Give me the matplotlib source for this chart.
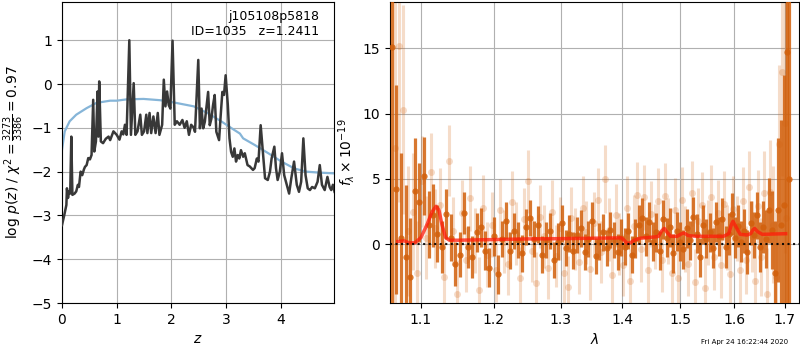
import numpy as np
import matplotlib
matplotlib.use('Agg')
import matplotlib.pyplot as plt
from matplotlib.ticker import FixedLocator, NullLocator, FormatStrFormatter

# --- left panel: redshift probability ---
z_grid = [0.00, 0.04, 0.08, 0.09, 0.11, 0.13, 0.15, 0.17, 0.19, 0.23,
          0.26, 0.29, 0.31, 0.34, 0.37, 0.40, 0.42, 0.45, 0.48, 0.51,
          0.54, 0.57, 0.59, 0.62, 0.65, 0.665, 0.68, 0.71, 0.75, 0.80,
          0.85, 0.88, 0.94, 1.00, 1.05, 1.09, 1.12, 1.15, 1.18, 1.23,
          1.26, 1.31, 1.34, 1.38, 1.43, 1.46, 1.50, 1.54, 1.56, 1.60,
          1.63, 1.67, 1.71, 1.75, 1.78, 1.83, 1.86, 1.89, 1.92, 1.95,
          1.98, 2.02, 2.06, 2.10, 2.15, 2.20, 2.24, 2.28, 2.32, 2.36,
          2.41, 2.43, 2.49, 2.52, 2.55, 2.58, 2.61, 2.67, 2.70, 2.73,
          2.76, 2.79, 2.82, 2.87, 2.90, 2.93, 2.96, 2.99, 3.03, 3.06,
          3.09, 3.12, 3.15, 3.18, 3.21, 3.24, 3.27, 3.31, 3.34, 3.39,
          3.43, 3.49, 3.52, 3.56, 3.59, 3.63, 3.68, 3.71, 3.76, 3.80,
          3.83, 3.88, 3.91, 3.94, 3.98, 4.02, 4.06, 4.10, 4.15, 4.19,
          4.24, 4.29, 4.33, 4.37, 4.41, 4.45, 4.49, 4.53, 4.57, 4.62,
          4.67, 4.71, 4.75, 4.80, 4.85, 4.89, 4.92, 4.95, 4.98]
logpz = [-3.22, -3.00, -2.76, -2.38, -2.60, -2.45, -2.50, -1.20, -2.53, -2.50,
         -2.45, -2.30, -2.35, -2.00, -2.08, -1.95, -1.89, -1.85, -1.69, -1.72,
         -1.62, -0.36, -1.54, -1.31, -0.17, -1.20, 0.06, -1.31, -1.35, -1.25,
         -1.20, -1.28, -1.08, -1.16, -1.27, -1.08, -1.15, -0.93, -1.16, 1.00,
         -1.16, 0.02, -1.16, -1.08, -0.70, -1.16, -1.08, -0.70, -1.12, -0.66,
         -1.12, -0.74, -1.12, -0.66, -1.16, -0.93, 0.10, -0.51, -0.17, -0.48,
         -0.56, 0.99, -0.93, -0.85, -0.93, -0.82, -1.00, -0.85, -1.16, -0.93,
         -1.00, -1.09, 0.55, -1.01, -0.56, -1.01, -0.86, -0.18, -0.94, -0.79,
         -0.48, -0.25, -1.09, -1.28, -0.71, -0.18, -0.25, 0.20, -0.48, -1.24,
         -1.55, -1.66, -1.47, -1.77, -1.62, -1.70, -1.51, -1.66, -1.58, -1.85,
         -1.88, -1.96, -1.92, -1.70, -1.77, -0.94, -1.70, -2.15, -2.19, -2.00,
         -1.70, -1.43, -1.92, -2.19, -2.00, -1.58, -2.08, -2.27, -2.50, -2.15,
         -1.77, -2.30, -2.46, -2.23, -1.24, -2.08, -2.38, -2.42, -2.35, -2.38,
         -2.23, -1.85, -2.30, -2.42, -2.12, -2.35, -2.42, -2.30, -2.46]

z_prior = [0.00, 0.05, 0.14, 0.26, 0.45, 0.63, 0.88, 1.00, 1.18, 1.49,
           1.80, 2.04, 2.41, 2.67, 2.92, 3.10, 3.25, 3.31, 3.52, 3.77,
           4.01, 4.25, 4.47, 4.68, 4.98]
logp_prior = [-1.50, -1.08, -0.85, -0.70, -0.55, -0.43, -0.38, -0.38, -0.35, -0.34,
              -0.37, -0.42, -0.51, -0.67, -0.86, -1.01, -1.13, -1.24, -1.39, -1.58,
              -1.77, -1.93, -2.00, -2.02, -2.04]

# --- right panel: spectrum ---
dark_wave = [1.063, 1.068, 1.074, 1.080, 1.086, 1.092, 1.098, 1.104, 1.110, 1.116,
             1.122, 1.128, 1.134, 1.140, 1.146, 1.152, 1.158, 1.164, 1.170, 1.176,
             1.182, 1.188, 1.194, 1.200, 1.206, 1.212, 1.218, 1.224, 1.230, 1.236,
             1.242, 1.248, 1.254, 1.260, 1.266, 1.272, 1.278, 1.284, 1.290, 1.296,
             1.302, 1.308, 1.314, 1.320, 1.326, 1.332, 1.338, 1.344, 1.350, 1.356,
             1.362, 1.368, 1.374, 1.380, 1.386, 1.392, 1.398, 1.404, 1.410, 1.416,
             1.422, 1.428, 1.434, 1.440, 1.446, 1.452, 1.458, 1.464, 1.470, 1.476,
             1.482, 1.488, 1.494, 1.500, 1.506, 1.512, 1.518, 1.524, 1.530, 1.536,
             1.542, 1.548, 1.554, 1.560, 1.566, 1.572, 1.578, 1.584, 1.590, 1.596,
             1.602, 1.608, 1.614, 1.620, 1.626, 1.632, 1.638, 1.644, 1.650, 1.656,
             1.662, 1.668, 1.674, 1.680, 1.686, 1.692, 1.698, 1.704, 1.709]
dark_flux = [15.1, 4.2, 0.5, -1.0, -2.5, 4.1, 3.2, 5.2, 1.5, 2.2,
             0.8, -0.2, 2.3, 0.5, -1.5, -0.8, 2.4, -0.2, -1.0, 0.9,
             1.3, -0.5, -1.8, 0.6, -2.3, 0.4, 1.8, -0.5, 1.0, 0.3,
             -0.7, 1.3, 2.0, 0.4, 1.5, -0.8, 0.3, 1.0, -1.2, 0.2,
             1.6, -0.3, 0.8, -0.5, 0.7, 1.2, -0.6, 0.4, 1.8, -0.9,
             0.2, 0.9, -0.3, 1.1, 0.3, -0.6, 0.5, -0.2, 1.0, -0.8,
             0.4, 1.5, 2.0, 0.6, 1.7, 0.2, 0.9, -0.5, 1.9, 0.5,
             1.3, -0.7, 1.0, 0.2, -0.4, 1.2, 0.3, 2.1, 0.8, -1.0,
             1.5, 0.4, 0.9, -0.3, 1.7, 0.6, 1.9, -0.2, 0.8, 2.3,
             0.5, 1.4, 0.2, 1.0, -0.6, 1.6, 0.7, 2.2, -0.2, 1.3,
             0.4, 2.6, 1.1, -2.2, 2.6, 1.5, 3.0, 14.7, 5.0]
dark_err = [80.0, 8.0, 6.5, 5.5, 4.5, 4.0, 3.0, 3.0, 2.6, 2.4,
            2.2, 2.0, 1.9, 1.8, 1.7, 1.7, 1.6, 1.6, 1.6, 1.5,
            1.5, 1.5, 1.5, 1.5, 1.5, 1.4, 1.4, 1.4, 1.4, 1.4,
            1.4, 1.4, 1.4, 1.4, 1.4, 1.4, 1.4, 1.4, 1.4, 1.4,
            1.4, 1.4, 1.4, 1.4, 1.4, 1.4, 1.4, 1.4, 1.4, 1.4,
            1.4, 1.4, 1.4, 1.4, 1.4, 1.4, 1.4, 1.4, 1.4, 1.4,
            1.5, 1.5, 1.5, 1.5, 1.5, 1.5, 1.5, 1.5, 1.5, 1.5,
            1.5, 1.5, 1.5, 1.5, 1.5, 1.5, 1.5, 1.5, 1.5, 1.5,
            1.5, 1.5, 1.5, 1.5, 1.5, 1.5, 1.6, 1.6, 1.6, 1.6,
            1.6, 1.6, 1.6, 1.7, 1.7, 1.7, 1.8, 1.8, 1.9, 2.0,
            2.2, 2.5, 3.0, 4.0, 5.5, 8.0, 10.0, 80.0, 80.0]

light_wave = [1.066, 1.071, 1.077, 1.083, 1.089, 1.095, 1.101, 1.107, 1.113, 1.119,
              1.125, 1.131, 1.137, 1.143, 1.149, 1.155, 1.161, 1.167, 1.173, 1.179,
              1.185, 1.191, 1.197, 1.203, 1.209, 1.215, 1.221, 1.227, 1.233, 1.239,
              1.245, 1.251, 1.257, 1.263, 1.269, 1.275, 1.281, 1.287, 1.293, 1.299,
              1.305, 1.311, 1.317, 1.323, 1.329, 1.335, 1.341, 1.347, 1.353, 1.359,
              1.365, 1.371, 1.377, 1.383, 1.389, 1.395, 1.401, 1.407, 1.413, 1.419,
              1.425, 1.431, 1.437, 1.443, 1.449, 1.455, 1.461, 1.467, 1.473, 1.479,
              1.485, 1.491, 1.497, 1.503, 1.509, 1.515, 1.521, 1.527, 1.533, 1.539,
              1.545, 1.551, 1.557, 1.563, 1.569, 1.575, 1.581, 1.587, 1.593, 1.599,
              1.605, 1.611, 1.617, 1.623, 1.629, 1.635, 1.641, 1.647, 1.653, 1.659,
              1.665, 1.671, 1.677, 1.683, 1.689, 1.695, 1.701, 1.703]
light_flux = [7.4, 15.2, 10.3, 1.0, 2.5, -2.2, 4.8, 0.5, 5.5, 1.2,
              3.0, -2.5, 6.4, 1.0, -3.8, 2.4, -1.2, 3.5, 0.3, -3.5,
              2.8, -0.8, 1.5, -2.0, 2.6, 0.2, -1.5, 3.2, 0.8, -2.6,
              1.9, 4.8, -0.5, -3.0, 2.1, 0.6, -1.8, 2.5, -0.9, 1.2,
              -2.2, -3.3, 2.0, 0.4, -1.4, 2.8, 0.9, -1.9, 1.6, 3.4,
              -0.6, 5.0, 1.1, -2.4, 2.2, 0.0, -1.6, 2.8, -2.8, 1.4,
              3.8, -0.4, 3.6, -2.0, 2.3, 0.6, 3.3, -1.2, 3.7, 1.0,
              -2.2, 2.6, -2.6, 3.4, 0.4, -1.5, 3.9, -2.9, 1.8, 3.0,
              -3.4, 0.9, 3.6, -1.0, 2.4, -1.6, 3.1, 0.5, -2.3, 2.7,
              1.2, -2.0, 3.3, -1.2, 4.4, 0.6, -2.8, 2.9, -1.0, 3.9,
              -3.8, 4.0, 1.5, -2.5, 7.7, 13.2, 9.3, 2.0]
light_err = [80.0, 12.0, 8.0, 5.0, 4.5, 4.0, 3.5, 3.2, 3.0, 3.0,
             2.8, 2.8, 2.7, 2.6, 2.6, 2.5, 2.5, 2.5, 2.5, 2.5,
             2.5, 2.5, 2.5, 2.4, 2.4, 2.4, 2.4, 2.4, 2.4, 2.4,
             2.4, 2.4, 2.4, 2.4, 2.4, 2.4, 2.4, 2.4, 2.4, 2.4,
             2.4, 2.4, 2.4, 2.4, 2.4, 2.4, 2.4, 2.4, 2.4, 2.4,
             2.4, 2.6, 2.4, 2.4, 2.4, 2.4, 2.4, 2.4, 2.4, 2.4,
             2.5, 2.5, 2.5, 2.5, 2.5, 2.5, 2.5, 2.5, 2.5, 2.5,
             2.5, 2.5, 2.5, 2.5, 2.5, 2.5, 2.5, 2.5, 2.5, 2.5,
             2.5, 2.5, 2.5, 2.5, 2.5, 2.5, 2.5, 2.5, 2.5, 2.5,
             2.5, 2.6, 2.6, 2.6, 2.7, 2.7, 2.8, 2.8, 3.0, 3.2,
             3.5, 4.0, 4.5, 5.0, 6.0, 8.0, 10.0, 80.0]

model_wave = [1.070, 1.078, 1.085, 1.092, 1.100, 1.108, 1.115, 1.120, 1.124, 1.128,
              1.133, 1.138, 1.150, 1.200, 1.250, 1.300, 1.350, 1.398, 1.403, 1.408,
              1.413, 1.420, 1.430, 1.455, 1.462, 1.467, 1.472, 1.477, 1.483, 1.495,
              1.503, 1.507, 1.515, 1.530, 1.580, 1.590, 1.595, 1.598, 1.604, 1.612,
              1.625, 1.632, 1.637, 1.640, 1.646, 1.655, 1.702]
model_flux = [0.20, 0.25, 0.10, 0.10, 0.50, 1.50, 2.50, 2.90, 2.60, 1.50,
              0.50, 0.30, 0.30, 0.35, 0.40, 0.42, 0.45, 0.48, 0.30, 0.05,
              0.10, 0.30, 0.45, 0.55, 0.60, 1.00, 1.20, 0.90, 0.60, 0.60,
              0.80, 0.85, 0.65, 0.60, 0.60, 0.80, 1.50, 1.75, 1.30, 0.75,
              0.70, 0.80, 1.10, 1.20, 0.95, 0.75, 0.80]

chi2_label = r'log $p(z)$ / $\chi^2=\frac{3273}{3386}=0.97$'
title_text = 'j105108p5818\nID=1035   z=1.2411'
timestamp = 'Fri Apr 24 16:22:44 2020'

orange = '#d2600c'

fig = plt.figure(figsize=(8, 3.5), dpi=100)
ax1 = fig.add_axes([0.0775, 0.134, 0.34, 0.86])
ax2 = fig.add_axes([0.4875, 0.134, 0.511, 0.86])

# p(z)
ax1.plot(z_prior, logp_prior, color='#86b5d8', lw=1.6, zorder=2)
ax1.plot(z_grid, logpz, color='#383838', lw=1.8, zorder=3)
ax1.set_xlim(0, 4.97)
ax1.set_ylim(-5, 1.87)
ax1.set_xticks([0, 1, 2, 3, 4])
ax1.set_yticks([-5, -4, -3, -2, -1, 0, 1])
ax1.set_xlabel('$z$')
ax1.set_ylabel(chi2_label)
ax1.grid(True)
ax1.text(0.945, 0.975, title_text, transform=ax1.transAxes, ha='right', va='top',
         fontsize=9)

# spectrum
ax2.errorbar(light_wave, light_flux, yerr=light_err, fmt='o', color=orange,
             alpha=0.22, ms=5, elinewidth=2.2, mec='none', zorder=2)
ax2.errorbar(dark_wave, dark_flux, yerr=dark_err, fmt='o', color=orange,
             alpha=0.85, ms=4.5, elinewidth=2.3, mec='none', zorder=3)
ax2.plot(model_wave, model_flux, color='#ff1a0a', lw=2.5, alpha=0.75, zorder=4)
ax2.axhline(0, color='k', ls=':', lw=1.5, alpha=0.9, zorder=5)

ax2.set_xscale('log')
ax2.set_xlim(1.06, 1.729)
ax2.set_ylim(-4.52, 18.55)
ax2.xaxis.set_major_locator(FixedLocator([1.1, 1.2, 1.3, 1.4, 1.5, 1.6, 1.7]))
ax2.xaxis.set_major_formatter(FormatStrFormatter('%.1f'))
ax2.xaxis.set_minor_locator(NullLocator())
ax2.set_yticks([0, 5, 10, 15])
ax2.set_xlabel(r'$\lambda$')
ax2.set_ylabel(r'$f_\lambda \times 10^{-19}$')
ax2.grid(True)

fig.text(0.985, 0.015, timestamp, ha='right', va='bottom', fontsize=5)

fig.savefig('out.png', dpi=100)
